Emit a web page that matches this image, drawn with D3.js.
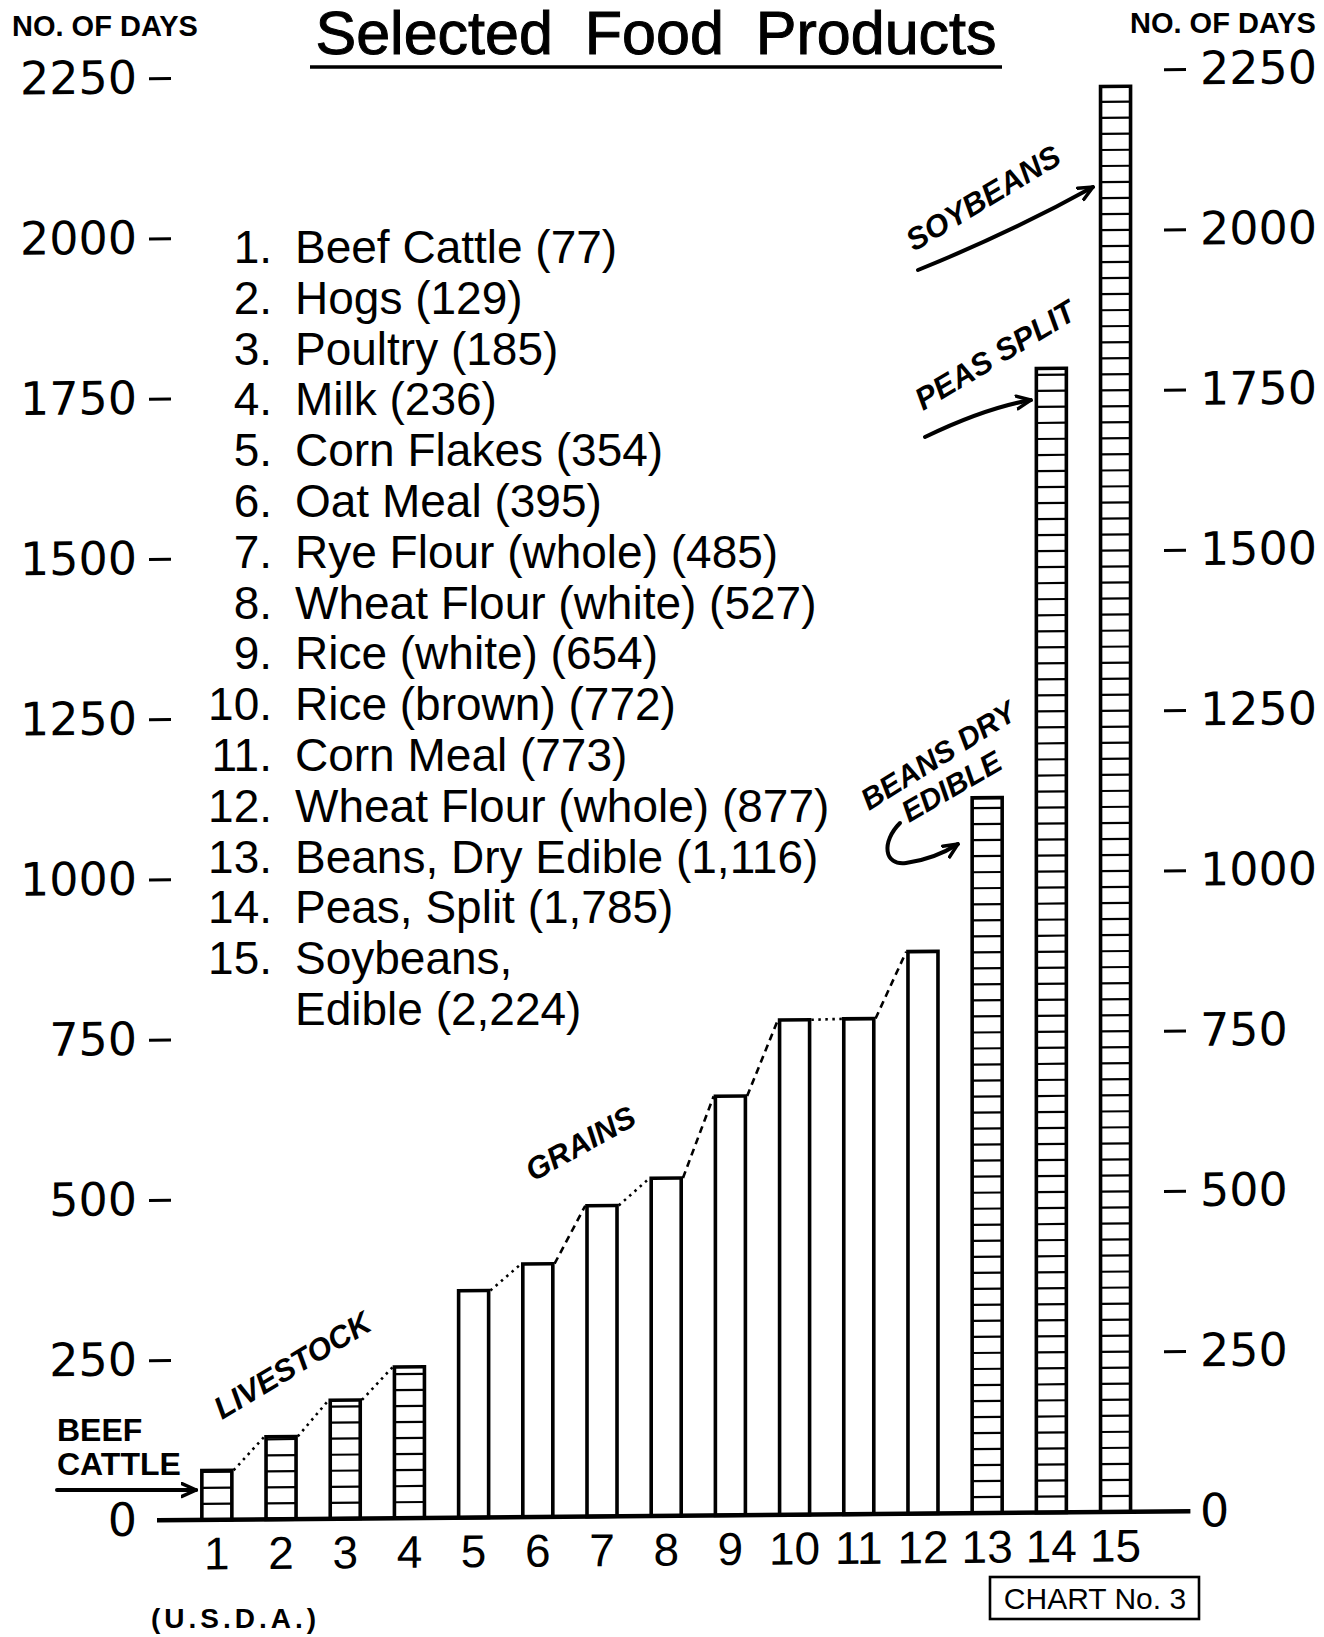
<!DOCTYPE html>
<html>
<head>
<meta charset="utf-8">
<title>Selected Food Products</title>
<script src="https://d3js.org/d3.v7.min.js"></script>
<style>
  body { margin: 0; background: #fff; }
  svg { display: block; background: #fff; }
  .yax text { font-family: "DejaVu Sans", sans-serif; font-size: 46px; fill: #000; }
  .xax text { font-family: "Liberation Sans", Arial, sans-serif; font-size: 46px; fill: #000; }
  .yax line { stroke: #000; stroke-width: 3px; }
  .legend text { font-family: "Liberation Sans", Arial, sans-serif; font-size: 46px; fill: #000; }
  .note { font-family: "Liberation Sans", Arial, sans-serif; font-weight: bold; fill: #000; }
  .slant { font-style: italic; font-size: 31px; }
  .arrow { fill: none; stroke: #000; stroke-width: 4px; stroke-linecap: round; }
</style>
</head>
<body>
<div id="chart"></div>
<script>

// data (days)
var products = ["Beef Cattle", "Hogs", "Poultry", "Milk", "Corn Flakes", "Oat Meal",
                "Rye Flour (whole)", "Wheat Flour (white)", "Rice (white)", "Rice (brown)",
                "Corn Meal", "Wheat Flour (whole)", "Beans, Dry Edible", "Peas, Split",
                "Soybeans,\nEdible"];
var days = [77, 129, 185, 236, 354, 395, 485, 527, 654, 772, 773, 877, 1116, 1785, 2224];
var ids = d3.range(1, 16);
var hatched = [1, 2, 3, 4, 13, 14, 15];
var yTicks = [0, 250, 500, 750, 1000, 1250, 1500, 1750, 2000, 2250];
var dottedPairs = [[1, 2], [2, 3], [3, 4], [5, 6], [7, 8], [10, 11]];
var dashedPairs = [[6, 7], [8, 9], [9, 10], [11, 12]];

var width = 1324,
    height = 1637;

var svg = d3.select("#chart").append("svg")
    .attr("width", width)
    .attr("height", height);

var defs = svg.append("defs");
defs.append("marker")
    .attr("id", "head")
    .attr("viewBox", "0 0 12 12")
    .attr("refX", 11).attr("refY", 6)
    .attr("markerWidth", 17).attr("markerHeight", 17)
    .attr("markerUnits", "userSpaceOnUse")
    .attr("orient", "auto")
  .append("path")
    .attr("d", "M1,1.5 L11,6 L1,10.5")
    .attr("fill", "none")
    .attr("stroke", "#000")
    .attr("stroke-width", 2.4)
    .attr("stroke-linecap", "round");

var x = d3.scaleBand()
    .domain(ids)
    .range([168, 1164.4])
    .paddingInner(0.478)
    .paddingOuter(0.5);

var y = d3.scaleLinear()
    .domain([0, 2250])
    .range([1516, 1516 - 2250 * 0.641]);

var bw = x.bandwidth();

// the scan's baseline runs slightly uphill to the right
var g = svg.append("g")
    .attr("transform", "translate(656,0) skewY(-0.5) translate(-656,0)");

// axes
var yl = g.append("g").attr("class", "yax")
    .attr("transform", "translate(171,0)")
    .call(d3.axisLeft(y).tickValues(yTicks).tickFormat(d3.format("d")).tickSize(22).tickPadding(12));
var yr = g.append("g").attr("class", "yax")
    .attr("transform", "translate(1164,0)")
    .call(d3.axisRight(y).tickValues(yTicks).tickFormat(d3.format("d")).tickSize(22).tickPadding(14));
[yl, yr].forEach(function(a) {
    a.select(".domain").remove();
    a.selectAll(".tick line").filter(function(d) { return d === 0; }).remove();
});

var xa = g.append("g").attr("class", "xax")
    .attr("transform", "translate(0," + y(0) + ")")
    .call(d3.axisBottom(x).tickSize(0).tickPadding(17));
xa.select(".domain").remove();

// connectors between bar tops
function connect(pairs, dash) {
    g.selectAll(null)
        .data(pairs)
        .enter()
        .append("line")
        .attr("x1", function(p) { return x(p[0]) + bw; })
        .attr("y1", function(p) { return y(days[p[0] - 1]); })
        .attr("x2", function(p) { return x(p[1]); })
        .attr("y2", function(p) { return y(days[p[1] - 1]); })
        .attr("stroke", "#000")
        .attr("stroke-width", 2.6)
        .attr("stroke-dasharray", dash);
}
connect(dottedPairs, "2.5,4.5");
connect(dashedPairs, "7,5");

// bars
var bars = g.selectAll("g.bar")
    .data(ids)
    .enter()
    .append("g")
    .attr("class", "bar");

bars.append("rect")
    .attr("x", function(d) { return x(d) + 1.75; })
    .attr("y", function(d) { return y(days[d - 1]); })
    .attr("width", bw - 3.5)
    .attr("height", function(d) { return y(0) - y(days[d - 1]); })
    .attr("fill", "#fff");

bars.filter(function(d) { return hatched.indexOf(d) >= 0; })
    .selectAll("line")
    .data(function(d) { return d3.range(25, days[d - 1], 25).map(function(v) { return { id: d, v: v }; }); })
    .enter()
    .append("line")
    .attr("x1", function(h) { return x(h.id) + 1.75; })
    .attr("x2", function(h) { return x(h.id) + bw - 1.75; })
    .attr("y1", function(h) { return y(h.v); })
    .attr("y2", function(h) { return y(h.v); })
    .attr("stroke", "#000")
    .attr("stroke-width", 2.2);

bars.append("rect")
    .attr("x", function(d) { return x(d) + 1.75; })
    .attr("y", function(d) { return y(days[d - 1]); })
    .attr("width", bw - 3.5)
    .attr("height", function(d) { return y(0) - y(days[d - 1]); })
    .attr("fill", "none")
    .attr("stroke", "#000")
    .attr("stroke-width", 3.6);

// base line
g.append("line")
    .attr("x1", x.range()[0] - 11)
    .attr("x2", x.range()[1] + 26)
    .attr("y1", y(0)).attr("y2", y(0))
    .attr("stroke", "#000")
    .attr("stroke-width", 4.5);

// title
svg.append("text")
    .attr("x", 656).attr("y", 54)
    .attr("text-anchor", "middle")
    .style("font-family", "'Liberation Sans', Arial, sans-serif")
    .style("font-size", "61px")
    .style("word-spacing", "15px")
    .style("stroke", "#000")
    .style("stroke-width", "1px")
    .text("Selected Food Products");
svg.append("line")
    .attr("x1", 310).attr("x2", 1002)
    .attr("y1", 67).attr("y2", 67)
    .attr("stroke", "#000").attr("stroke-width", 3.5);

svg.append("text").attr("class", "note")
    .attr("x", 12).attr("y", 36)
    .style("font-size", "29px")
    .text("NO. OF DAYS");
svg.append("text").attr("class", "note")
    .attr("x", 1130).attr("y", 33)
    .style("font-size", "29px")
    .text("NO. OF DAYS");

// list of products
var fmt = d3.format(",");
var leg = svg.append("g").attr("class", "legend");
var lineNo = 0;
products.forEach(function(p, i) {
    var parts = (p + " (" + fmt(days[i]) + ")").split("\n");
    leg.append("text")
        .attr("x", 272).attr("y", 263 + 50.8 * lineNo)
        .attr("text-anchor", "end")
        .text(ids[i] + ".");
    parts.forEach(function(t) {
        leg.append("text")
            .attr("x", 295).attr("y", 263 + 50.8 * lineNo)
            .text(t);
        lineNo++;
    });
});

// annotations
svg.append("text").attr("class", "note").attr("x", 57).attr("y", 1441).style("font-size", "32px").text("BEEF");
svg.append("text").attr("class", "note").attr("x", 57).attr("y", 1475).style("font-size", "32px").text("CATTLE");
svg.append("path").attr("class", "arrow")
    .attr("d", "M57,1490 L" + (x(1) - 4) + ",1490")
    .attr("marker-end", "url(#head)");

function slanted(txt, px, py, ang, size) {
    svg.append("text").attr("class", "note slant")
        .attr("transform", "translate(" + px + "," + py + ") rotate(" + ang + ")")
        .style("font-size", size + "px")
        .text(txt);
}
slanted("LIVESTOCK", 222, 1420, -31, 31);
slanted("GRAINS", 533, 1182, -29, 31);
slanted("BEANS DRY", 869, 811, -32, 30);
slanted("EDIBLE", 909, 823, -30, 30);
slanted("PEAS SPLIT", 923, 411, -31, 31);
slanted("SOYBEANS", 914, 252, -31, 31);

svg.append("path").attr("class", "arrow")
    .attr("d", "M918,270 Q1012,232 1093,187")
    .attr("marker-end", "url(#head)");
svg.append("path").attr("class", "arrow")
    .attr("d", "M925,437 Q985,408 1031,400")
    .attr("marker-end", "url(#head)");
svg.append("path").attr("class", "arrow")
    .attr("d", "M900,823 C881,842 884,866 906,863 S944,853 958,844")
    .attr("marker-end", "url(#head)");

// chart number box and source
svg.append("rect")
    .attr("x", 990).attr("y", 1577)
    .attr("width", 209).attr("height", 42)
    .attr("fill", "none").attr("stroke", "#000").attr("stroke-width", 2.6);
svg.append("text")
    .attr("x", 1095).attr("y", 1609)
    .attr("text-anchor", "middle")
    .style("font-family", "'Liberation Sans', Arial, sans-serif")
    .style("font-size", "30px")
    .text("CHART No. 3");
svg.append("text").attr("class", "note")
    .attr("x", 151).attr("y", 1628)
    .style("font-size", "28px")
    .style("letter-spacing", "4px")
    .text("(U.S.D.A.)");

</script>
</body>
</html>
